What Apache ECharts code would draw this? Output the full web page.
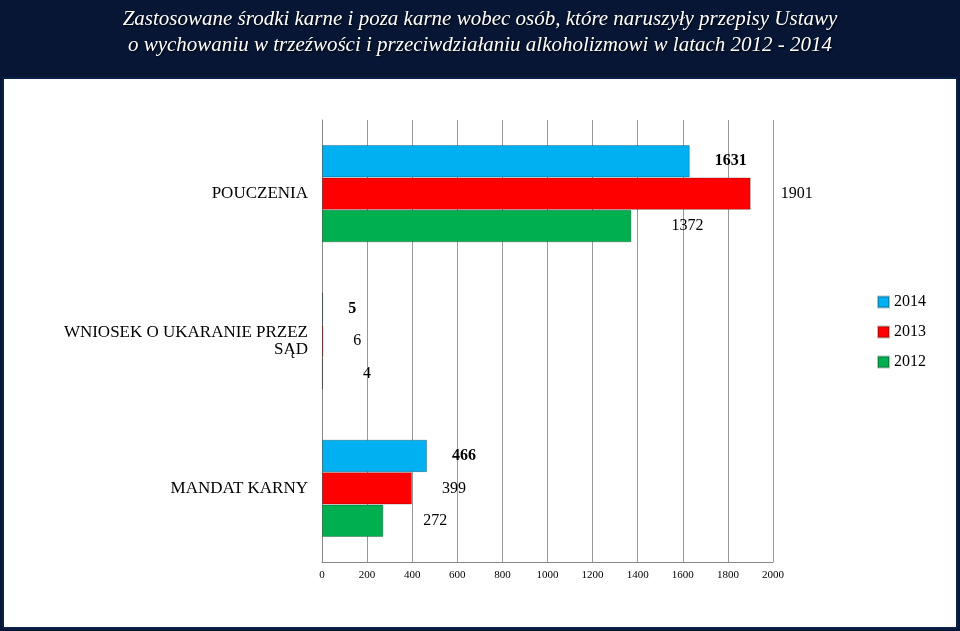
<!DOCTYPE html>
<html><head><meta charset="utf-8">
<script src="https://cdn.jsdelivr.net/npm/echarts@6/dist/echarts.min.js"></script>
<style>html,body{margin:0;padding:0;background:#071634;}#c{width:960px;height:631px;}</style>
</head><body><div id="c"></div>
<script>
var categories = ['POUCZENIA', 'WNIOSEK O UKARANIE PRZEZ\nSĄD', 'MANDAT KARNY'];
var seriesNames = ['2014', '2013', '2012'];
var v2014 = [1631, 5, 466];
var v2013 = [1901, 6, 399];
var v2012 = [1372, 4, 272];
var colors = ['#00B0F0', '#FF0000', '#00B050'];
var values = [v2014, v2013, v2012];
var chart = echarts.init(document.getElementById('c'));
var ser = seriesNames.map(function(n, i){
  return {name:n, type:'bar', data:values[i], barGap:'0%', barCategoryGap:'34%', barMinWidth:1,
    itemStyle:{color:colors[i], borderColor:'rgba(0,0,0,0.25)', borderWidth:1},
    label:{show:true, position:'right', distance:i===0?25:(i===1?30:40), color:'#000',
      fontFamily:'Liberation Serif', fontSize:16, fontWeight:i===0?'bold':'normal'}};
});
chart.setOption({
  backgroundColor:'#071634',
  animation:false,
  graphic:[{type:'rect', shape:{x:3, y:78, width:954, height:550}, style:{fill:'#fff', stroke:'#0a1f4a', lineWidth:2}, z:-10}],
  title:{text:'Zastosowane środki karne i poza karne wobec osób, które naruszyły przepisy Ustawy\no wychowaniu w trzeźwości i przeciwdziałaniu alkoholizmowi w latach 2012 - 2014',
    left:'center', top:1, textStyle:{color:'#fff', fontFamily:'Liberation Serif', fontStyle:'italic', fontSize:21, fontWeight:'normal', lineHeight:26,
      textShadowColor:'rgba(0,0,0,0.8)', textShadowBlur:2, textShadowOffsetX:1, textShadowOffsetY:1}},
  legend:{orient:'vertical', left:872, top:289, itemWidth:11, itemHeight:11, itemGap:14, icon:'rect',
    textStyle:{fontFamily:'Liberation Serif', fontSize:16, color:'#000'}},
  grid:{left:322, right:187, top:120, bottom:69},
  xAxis:{type:'value', min:0, max:2000, interval:200,
    axisLabel:{fontFamily:'Liberation Serif', fontSize:11, color:'#000', formatter:function(v){return String(v);}},
    splitLine:{lineStyle:{color:'#999'}}, axisLine:{show:true, lineStyle:{color:'#888'}}},
  yAxis:{type:'category', inverse:true, data:categories,
    axisLabel:{fontFamily:'Liberation Serif', fontSize:17, color:'#000', margin:14, align:'right'},
    axisTick:{show:false}, axisLine:{lineStyle:{color:'#888'}}},
  series:ser
});
</script></body></html>
